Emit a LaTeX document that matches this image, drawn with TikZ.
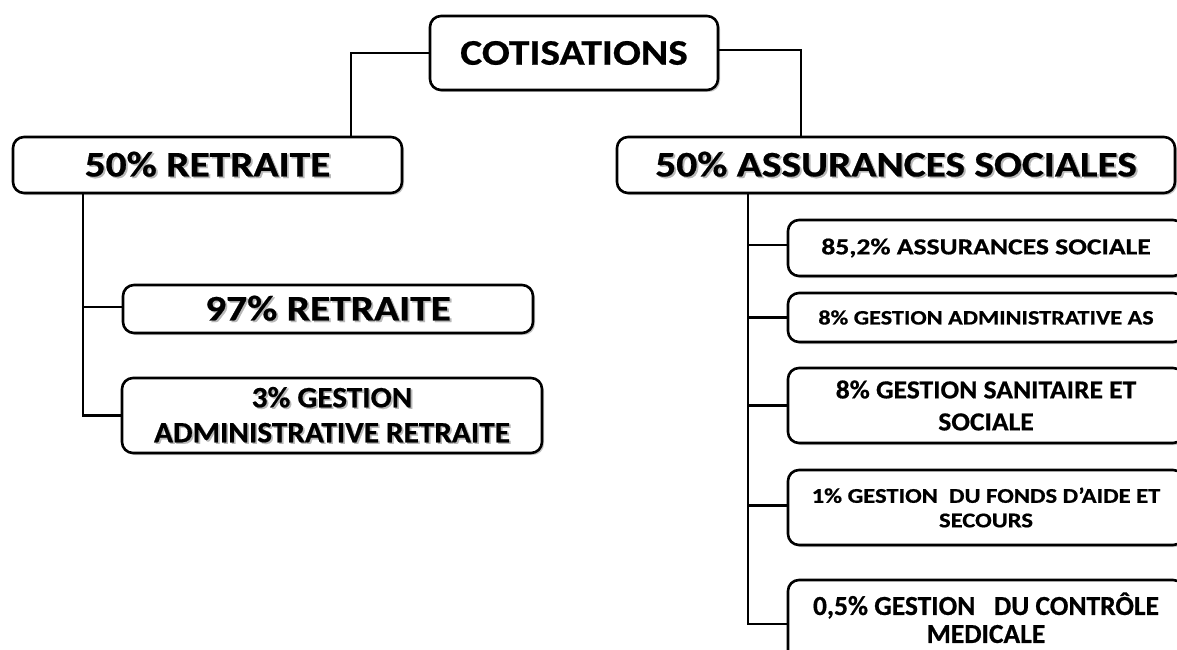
\documentclass[tikz,border=0pt]{standalone}
\usepackage{fontspec}
\setmainfont{Carlito}[BoldFeatures={FakeBold=0.6}]
\usetikzlibrary{shadows}
% horizontally widened text
\newcommand\hs[2]{\scalebox{#1}[1]{#2}}
% text with a soft grey offset copy behind it
\newcommand\shd[1]{\leavevmode\rlap{\kern1.6pt\raisebox{-1.6pt}{\textcolor{black!28}{#1}}}#1}
\tikzset{
  box/.style={draw=black, line width=2.6pt, rounded corners=11pt, fill=white,
    align=center, inner sep=0pt,
    drop shadow={shadow xshift=2pt, shadow yshift=-2pt, opacity=0.22, fill=black}},
  link/.style={line width=2.6pt, draw=black},
  fbig/.style={font=\bfseries\fontsize{36}{40}\selectfont},
}
\begin{document}
\begin{tikzpicture}[x=1pt, y=-1pt]
\useasboundingbox (0,0) rectangle (1177,650);
\clip (0,0) rectangle (1177,650);

% top level
\node[box, fbig, minimum width=288pt, minimum height=74pt] (cot) at (574,53)
  {\hs{1.15}{COTISATIONS}};

% first level
\node[box, fbig, minimum width=389pt, minimum height=56pt] (ret) at (207.5,165)
  {\hs{1.15}{\shd{50\% RETRAITE}}};
\node[box, fbig, minimum width=558pt, minimum height=56pt] (as) at (896,165)
  {\hs{1.15}{\shd{50\% ASSURANCES SOCIALES}}};

% retirement branch
\node[box, fbig, minimum width=410pt, minimum height=48pt] (r97) at (328,309)
  {\hs{1.15}{\shd{97\% RETRAITE}}};
\node[box, font=\bfseries\fontsize{29.5}{35}\selectfont,
      minimum width=420pt, minimum height=75pt] (r3) at (332,415.5)
  {\hs{1.06}{\shd{3\% GESTION}}\\\hs{1.06}{\shd{ADMINISTRATIVE RETRAITE}}};

% social insurance branch
\node[box, font=\bfseries\fontsize{23}{27}\selectfont,
      minimum width=396pt, minimum height=56pt] (s1) at (986,248)
  {\hs{1.2}{85,2\% ASSURANCES SOCIALE}};
\node[box, font=\bfseries\fontsize{20.5}{24}\selectfont,
      minimum width=396pt, minimum height=49pt] (s2) at (986,317.5)
  {\hs{1.18}{8\% GESTION ADMINISTRATIVE AS}};
\node[box, font=\bfseries\fontsize{26}{32}\selectfont,
      minimum width=396pt, minimum height=75pt] (s3) at (986,405.5)
  {\hs{1.06}{8\% GESTION SANITAIRE ET}\\\hs{1.06}{SOCIALE}};
\node[box, font=\bfseries\fontsize{21}{24.5}\selectfont,
      minimum width=396pt, minimum height=75pt] (s4) at (986,507.5)
  {\hs{1.17}{1\% GESTION \ DU FONDS D’AIDE ET}\\\hs{1.17}{SECOURS}};
\node[box, font=\bfseries\fontsize{27.5}{29}\selectfont,
      minimum width=396pt, minimum height=84pt] (s5) at (986,622)
  {\raisebox{5pt}{\begin{tabular}{@{}c@{}}0,5\% GESTION \ \ DU CONTRÔLE\\[-1pt]MEDICALE\end{tabular}}};

% connectors
\draw[link] (cot.west) -| ([xshift=143.5pt]ret.north);
\draw[link] ([yshift=3pt]cot.east) -| ([xshift=-95pt]as.north);

\coordinate (lt) at ([xshift=-124.5pt]ret.south);
\draw[link] (lt) |- (r3.west);
\draw[link] ([yshift=2pt]r97.west) -- ([yshift=2pt]r97.west -| lt);

\coordinate (rt) at ([xshift=-148pt]as.south);
\draw[link] (rt) |- ([yshift=-2pt]s5.west);
\draw[link] ([yshift=3pt]s1.west) -- ([yshift=3pt]s1.west -| rt);
\draw[link] (s2.west) -- (s2.west -| rt);
\draw[link] (s3.west) -- (s3.west -| rt);
\draw[link] ([yshift=2pt]s4.west) -- ([yshift=2pt]s4.west -| rt);
\end{tikzpicture}
\end{document}
